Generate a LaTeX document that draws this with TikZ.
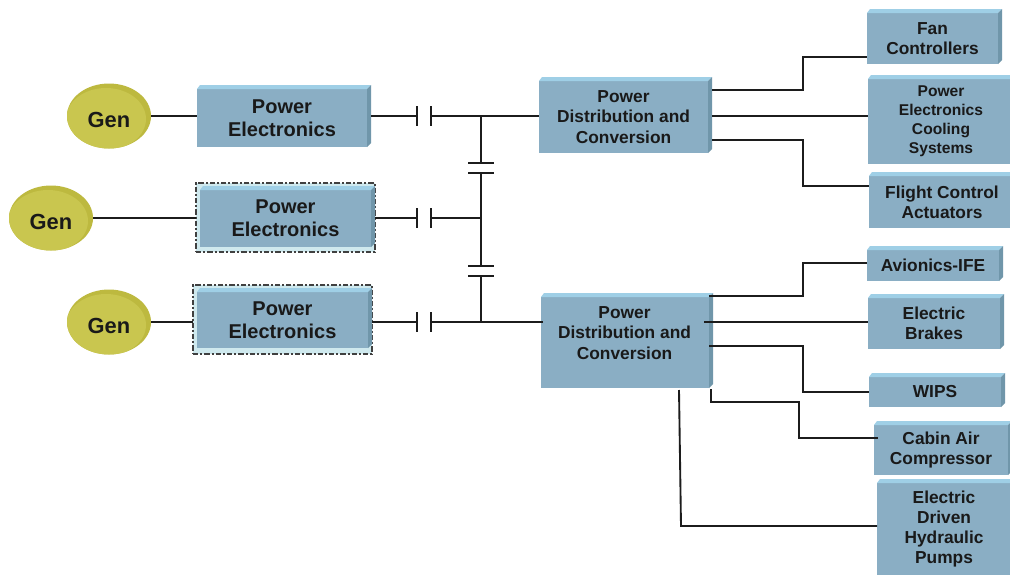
\documentclass[tikz,border=0pt]{standalone}
\usetikzlibrary{shapes.geometric}
\usepackage{fontspec}
\setmainfont{Liberation Sans}
\usepackage{xcolor}
\definecolor{boxface}{HTML}{8AAEC4}
\definecolor{boxtop}{HTML}{9FCFE6}
\definecolor{boxside}{HTML}{7096AA}
\definecolor{frameglow}{HTML}{CFE9EE}
\definecolor{genface}{HTML}{C9C64F}
\definecolor{genrim}{HTML}{BDB93F}
\definecolor{wirecol}{HTML}{1C1C1C}

\begin{document}
\begin{tikzpicture}[
  x=0.75pt, y=-0.75pt,
  box/.style 2 args={
    rectangle, fill=boxface, inner sep=0pt, outer sep=0pt,
    minimum width=#1*0.75pt, minimum height=#2*0.75pt,
    align=center, text=black!90
  },
  big/.style={font=\fontsize{15}{17.25}\selectfont\bfseries},
  mid/.style={font=\fontsize{13}{15.2}\selectfont\bfseries},
  small/.style={font=\fontsize{11.7}{14.2}\selectfont\bfseries},
  frame/.style={
    rectangle, inner sep=0pt, outer sep=0pt, fill=frameglow,
    draw=black!75, line width=0.8pt, dash pattern=on 4pt off 1.5pt on 1.5pt off 1.5pt,
    minimum width=179*0.75pt, minimum height=69*0.75pt
  },
  gen/.style={
    ellipse, fill=genrim, inner sep=0pt, outer sep=0pt,
    minimum width=84*0.75pt, minimum height=65*0.75pt, text height=17pt,
    font=\fontsize{16.4}{18}\selectfont\bfseries, text=black!90,
    path picture={\fill[genface] ([shift={(-3,3)}]path picture bounding box.center) ellipse [x radius=40, y radius=31];}
  },
  wire/.style={draw=wirecol, line width=1.4pt},
  capv/.style={fill=wirecol, inner sep=0pt, outer sep=0pt, minimum width=1.8pt, minimum height=15pt},
  caph/.style={fill=wirecol, inner sep=0pt, outer sep=0pt, minimum width=20pt, minimum height=1.8pt}
]
  \path[use as bounding box, clip] (0,0) rectangle (1010,575);
  \fill[white] (0,0) rectangle (1010,575);

  \node[gen] (gen1) at (109,116) {Gen};
  \node[gen] (gen2) at (51,218) {Gen};
  \node[gen] (gen3) at (109,322) {Gen};

  \node[box={170}{58}, big] (pe1) at (282,118) {Power\\Electronics};
  \node[frame] (pe2) at (285.5,217.5) {};
  \node[box={171}{57}, big] (pe2in) at (285.5,218.5) {Power\\Electronics};
  \node[frame] (pe3) at (282.5,319.5) {};
  \node[box={171}{56}, big] (pe3in) at (282.5,320) {Power\\Electronics};

  \node[box={169}{72}, mid] (pd1) at (623.5,117) {Power\\Distribution and\\Conversion};
  \node[box={168}{91}] (pd2) at (625,342.5) {};
  \node[mid, align=center, text=black!90] (pd2text) at (624.5,333) {Power\\Distribution and\\Conversion};

  \node[box={131}{51}, mid] (fan) at (932.5,38.5) {Fan\\Controllers};
  \node[box={146}{85}, small] (cooling) at (941,121.5) {Power\\Electronics\\Cooling\\Systems};
  \node[box={146}{52}, mid] (flight) at (942,202) {Flight Control\\Actuators};
  \node[box={132}{31}, mid] (avionics) at (933,265.5) {Avionics-IFE};
  \node[box={132}{51}, mid] (brakes) at (934,323.5) {Electric\\Brakes};
  \node[box={132}{30}, mid] (wips) at (935,392) {WIPS};
  \node[box={134}{50}, mid] (cabin) at (941,450) {Cabin Air\\Compressor};
  \node[box={134}{92}, mid] (pumps) at (944,529) {Electric\\Driven\\Hydraulic\\Pumps};

  \foreach \n in {pe1,pe2in,pe3in,pd1,pd2,fan,cooling,flight,avionics,brakes,wips,cabin,pumps} {
    \fill[boxtop] (\n.north west) -- ++(3,-4) -- ([shift={(4,-4)}]\n.north east) -- (\n.north east) -- cycle;
    \fill[boxside] (\n.north east) -- ++(4,-4) -- ([shift={(4,-4)}]\n.south east) -- (\n.south east) -- cycle;
  }

  \node[capv] (c1l) at (417,116) {};
  \node[capv] (c1r) at (431,116) {};
  \node[capv] (c2l) at (417,218) {};
  \node[capv] (c2r) at (431,218) {};
  \node[capv] (c3l) at (417,322) {};
  \node[capv] (c3r) at (431,322) {};
  \node[caph] (t1a) at (481,163) {};
  \node[caph] (t1b) at (481,173) {};
  \node[caph] (t2a) at (481,266) {};
  \node[caph] (t2b) at (481,276) {};
  \coordinate (bus1) at (481,116);
  \coordinate (bus2) at (481,218);
  \coordinate (bus3) at (481,322);

  \draw[wire] (gen1) -- (gen1 -| pe1.west);
  \draw[wire] (gen2) -- (gen2 -| pe2.west);
  \draw[wire] (gen3) -- (gen3 -| pe3.west);
  \draw[wire] ([xshift=3pt]c1l -| pe1.east) -- (c1l);
  \draw[wire] (c2l -| pe2.east) -- (c2l);
  \draw[wire] (c3l -| pe3.east) -- (c3l);
  \draw[wire] (c1r) -- (bus1);
  \draw[wire] (c2r) -- (bus2);
  \draw[wire] (c3r) -- (bus3);
  \draw[wire] (bus1) -- (t1a);
  \draw[wire] (t1b) -- (t2a);
  \draw[wire] (t2b) -- (bus3);
  \draw[wire] (bus1) -- (bus1 -| pd1.west);
  \draw[wire] (bus3) -- ([xshift=1.5pt]bus3 -| pd2.west);

  \draw[wire] ([shift={(4,-27)}]pd1.east) -- ++(91,0) |- ([yshift=-13.9pt]fan.west);
  \draw[wire] ([shift={(4,-1)}]pd1.east) -- ([shift={(0,-5.5)}]cooling.west);
  \draw[wire] ([shift={(4,23)}]pd1.east) -- ++(91,0) |- ([shift={(0,-16)}]flight.west);

  \draw[wire] ([shift={(0,-46.5)}]pd2.east) -- ++(94,0) |- ([shift={(0,-2.5)}]avionics.west);
  \draw[wire] ([shift={(-5,-20.5)}]pd2.east) -- ([shift={(0,-1.5)}]brakes.west);
  \draw[wire] ([shift={(0,3.5)}]pd2.east) -- ++(94,0) |- (wips.west);
  \draw[wire] ([shift={(2,1)}]pd2.south east) |- ++(88,13) |- ([shift={(4,-12)}]cabin.west);
  \draw[wire] ([shift={(54,2)}]pd2.south) -- ([shift={(56,138)}]pd2.south) -- ([shift={(0,-3)}]pumps.west);
\end{tikzpicture}
\end{document}
